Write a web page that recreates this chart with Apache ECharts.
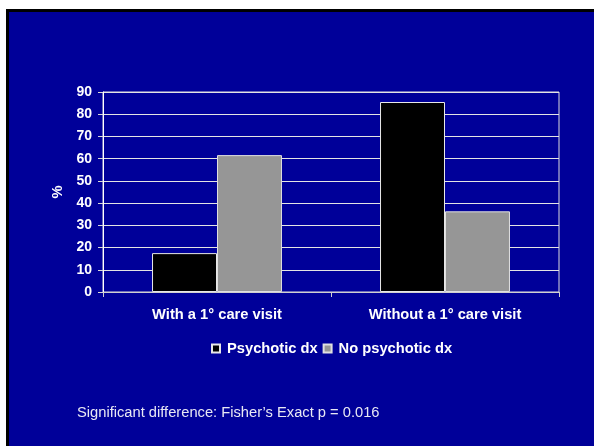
<!DOCTYPE html>
<html>
<head>
<meta charset="utf-8">
<script src="https://cdn.jsdelivr.net/npm/echarts@6/dist/echarts.min.js"></script>
<style>
html,body{margin:0;padding:0;background:#fff;}
#chart{width:594px;height:446px;}
</style>
</head>
<body>
<div id="chart"></div>
<script>
const categories = ['With a 1° care visit', 'Without a 1° care visit'];
const psychotic = [17.5, 85.5];
const noPsychotic = [61.6, 36.3];
const seriesNames = ['Psychotic dx', 'No psychotic dx'];
const yTicks = [0, 10, 20, 30, 40, 50, 60, 70, 80, 90];
const footnote = 'Significant difference: Fisher\u2019s Exact p = 0.016';

const chart = echarts.init(document.getElementById('chart'), null, {renderer: 'canvas'});
const font = '"Liberation Sans", Arial, sans-serif';
chart.setOption({
  backgroundColor: '#000099',
  animation: false,
  graphic: [
    {type: 'rect', shape: {x: 0, y: 0, width: 594, height: 9}, style: {fill: '#ffffff'}, z: -10},
    {type: 'rect', shape: {x: 0, y: 0, width: 6, height: 446}, style: {fill: '#ffffff'}, z: -10},
    {type: 'rect', shape: {x: 6, y: 9, width: 588, height: 3}, style: {fill: '#000000'}, z: -10},
    {type: 'rect', shape: {x: 6, y: 9, width: 3, height: 437}, style: {fill: '#000000'}, z: -10}
  ],
  title: {
    text: footnote,
    left: 72, top: 400,
    textStyle: {color: '#e8e8f4', fontFamily: font, fontWeight: 'normal', fontSize: 14.7}
  },
  legend: {
    data: seriesNames,
    top: 336, left: 206,
    icon: 'rect', itemWidth: 8, itemHeight: 8, itemGap: 5,
    textStyle: {color: '#ffffff', fontFamily: font, fontWeight: 'bold', fontSize: 14.7, padding: [0, 0, 0, 2]}
  },
  grid: {left: 103, right: 35, top: 92, bottom: 154, show: true, borderColor: '#dcdcdc', borderWidth: 1, backgroundColor: 'transparent'},
  xAxis: {
    type: 'category', data: categories,
    axisLine: {lineStyle: {color: '#d0d0d0', width: 1}},
    axisTick: {show: true, length: 5, lineStyle: {color: '#d0d0d0'}},
    axisLabel: {color: '#ffffff', fontFamily: font, fontWeight: 'bold', fontSize: 14.7, margin: 15},
    splitLine: {show: false}
  },
  yAxis: {
    type: 'value', min: yTicks[0], max: yTicks[yTicks.length - 1], interval: 10,
    name: '%', nameLocation: 'middle', nameGap: 38, nameRotate: 90,
    nameTextStyle: {color: '#ffffff', fontFamily: font, fontWeight: 'bold', fontSize: 14.7},
    axisLine: {show: true, lineStyle: {color: '#ffffff', width: 1}},
    axisTick: {show: true, length: 5, lineStyle: {color: '#d8d8d8'}},
    axisLabel: {color: '#ffffff', fontFamily: font, fontWeight: 'bold', fontSize: 14, margin: 11},
    splitLine: {show: true, lineStyle: {color: '#e4e4e4', width: 1}}
  },
  series: [
    {name: seriesNames[0], type: 'bar', data: psychotic, barCategoryGap: '43%', barGap: '0%',
     itemStyle: {color: '#000000', borderColor: '#e8e8e8', borderWidth: 1}},
    {name: seriesNames[1], type: 'bar', data: noPsychotic, barCategoryGap: '43%', barGap: '0%',
     itemStyle: {color: '#969696', borderColor: '#e0e0e0', borderWidth: 1}}
  ]
});
</script>
</body>
</html>
